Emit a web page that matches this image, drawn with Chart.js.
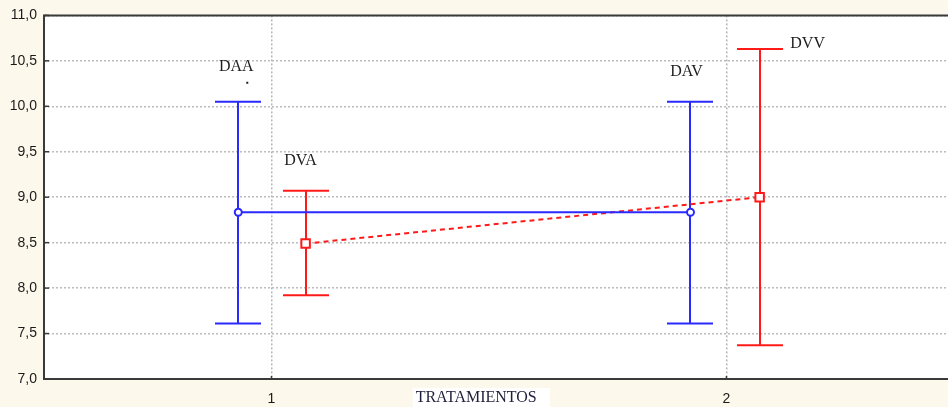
<!DOCTYPE html>
<html>
<head>
<meta charset="utf-8">
<script src="https://cdn.jsdelivr.net/npm/chart.js@4/dist/chart.umd.min.js"></script>
<style>
  html, body { margin: 0; padding: 0; background: #fdf8ec; }
  canvas { display: block; }
</style>
</head>
<body>
<canvas id="c" width="948" height="407"></canvas>
<script>
// Treatment groups on the x axis
const xTickValues = [1, 2];
const xTitle = 'TRATAMIENTOS';

// Blue series: DAA (treatment 1) and DAV (treatment 2)
const blueNames = ['DAA', 'DAV'];
const blueX = [0.927, 1.921];
const blueMean = [8.835, 8.835];
const blueUpper = [10.05, 10.05];
const blueLower = [7.61, 7.61];

// Red series: DVA (treatment 1) and DVV (treatment 2)
const redNames = ['DVA', 'DVV'];
const redX = [1.075, 2.073];
const redMean = [8.49, 9.0];
const redUpper = [9.07, 10.63];
const redLower = [7.92, 7.37];

const fmt = v => v.toFixed(1).replace('.', ',');

const pts = (xs, ys) => xs.map((x, i) => ({ x: x, y: ys[i] }));

// Background, plot frame, error bars and group labels
const decor = {
  id: 'decor',
  beforeDraw(chart) {
    const { ctx, chartArea: a } = chart;
    ctx.save();
    ctx.fillStyle = '#fdf8ec';
    ctx.fillRect(0, 0, chart.width, chart.height);
    ctx.fillStyle = '#ffffff';
    ctx.fillRect(a.left, a.top, a.right - a.left, a.bottom - a.top);
    ctx.restore();
  },
  beforeDatasetsDraw(chart) {
    const { ctx } = chart;
    const xs = chart.scales.x, ys = chart.scales.y;
    ctx.save();
    chart.data.datasets.forEach(ds => {
      ctx.strokeStyle = ds.borderColor;
      ctx.lineWidth = 2;
      ctx.setLineDash([]);
      ds.data.forEach((p, i) => {
        const px = Math.round(xs.getPixelForValue(p.x));
        const yu = ys.getPixelForValue(ds.upper[i]);
        const yl = ys.getPixelForValue(ds.lower[i]);
        ctx.beginPath();
        ctx.moveTo(px, yu); ctx.lineTo(px, yl);
        ctx.moveTo(px - 23, yu); ctx.lineTo(px + 23, yu);
        ctx.moveTo(px - 23, yl); ctx.lineTo(px + 23, yl);
        ctx.stroke();
      });
    });
    ctx.restore();
  },
  afterDraw(chart) {
    const { ctx, chartArea: a } = chart;
    const xs = chart.scales.x, ys = chart.scales.y;
    ctx.save();
    // frame: top, left, bottom
    ctx.strokeStyle = '#3a3a3a';
    ctx.lineWidth = 2;
    ctx.beginPath();
    ctx.moveTo(a.right, a.top); ctx.lineTo(a.left, a.top);
    ctx.lineTo(a.left, a.bottom); ctx.lineTo(a.right, a.bottom);
    ctx.stroke();
    // inward ticks on the y axis
    ctx.lineWidth = 1.5;
    ys.ticks.forEach(t => {
      const y = ys.getPixelForValue(t.value);
      ctx.beginPath(); ctx.moveTo(a.left, y); ctx.lineTo(a.left + 5, y); ctx.stroke();
    });
    xTickValues.forEach(v => {
      const x = xs.getPixelForValue(v);
      ctx.beginPath(); ctx.moveTo(x, a.bottom); ctx.lineTo(x, a.bottom - 3); ctx.stroke();
    });
    // group labels
    ctx.font = '16px "Liberation Serif", "Times New Roman", serif';
    ctx.fillStyle = '#1e1e1e';
    ctx.textAlign = 'center';
    ctx.textBaseline = 'middle';
    chart.data.datasets.forEach(ds => {
      ds.data.forEach((p, i) => {
        const px = xs.getPixelForValue(p.x);
        const yu = ys.getPixelForValue(ds.upper[i]);
        const off = ds.labelOffsets[i];
        ctx.fillText(ds.names[i], px + off[0], yu + off[1]);
      });
    });
    // small stray mark under the first label
    const d0 = chart.data.datasets[0];
    ctx.fillRect(xs.getPixelForValue(d0.data[0].x) + 8, ys.getPixelForValue(d0.upper[0]) - 20, 2, 2);
    // axis title with white backing
    ctx.font = '16px "Liberation Serif", "Times New Roman", serif';
    const tx = xs.getPixelForValue(1.45);
    const ty = a.bottom + 18;
    const w = ctx.measureText(xTitle).width;
    ctx.fillStyle = '#ffffff';
    ctx.fillRect(tx - w / 2 - 3, ty - 9, w + 16, 19);
    ctx.fillStyle = '#1e1e3a';
    ctx.fillText(xTitle, tx, ty + 1);
    ctx.restore();
  }
};

new Chart(document.getElementById('c'), {
  type: 'line',
  data: {
    datasets: [
      {
        data: pts(blueX, blueMean),
        upper: blueUpper, lower: blueLower, names: blueNames,
        labelOffsets: [[-2, -35], [-4, -30]],
        borderColor: '#2a2aff',
        backgroundColor: '#ffffff',
        borderWidth: 2,
        pointStyle: 'circle',
        pointRadius: 3.5,
        pointBorderWidth: 2,
        pointBackgroundColor: '#ffffff',
        tension: 0
      },
      {
        data: pts(redX, redMean),
        upper: redUpper, lower: redLower, names: redNames,
        labelOffsets: [[-5, -30], [48, -5]],
        borderColor: '#ff1a1a',
        backgroundColor: '#ffffff',
        borderWidth: 2,
        borderDash: [5, 4],
        pointStyle: 'rect',
        pointRadius: 6,
        pointBorderWidth: 2,
        pointBackgroundColor: '#ffffff',
        tension: 0
      }
    ]
  },
  options: {
    responsive: false,
    devicePixelRatio: 1,
    animation: false,
    layout: { autoPadding: false, padding: { top: 15, right: 0, left: 0, bottom: 0 } },
    plugins: { legend: { display: false }, tooltip: { enabled: false } },
    scales: {
      x: {
        type: 'linear',
        min: 0.5,
        max: 2.487,
        afterBuildTicks: s => { s.ticks = xTickValues.map(v => ({ value: v })); },
        afterFit: s => { s.height = 28; },
        ticks: {
          color: '#1a1a1a',
          font: { family: '"Liberation Sans", Arial, sans-serif', size: 14 },
          padding: 12,
          callback: v => String(v)
        },
        grid: {
          color: '#b4b4b4',
          lineWidth: 1.5,
          drawTicks: false
        },
        border: { display: false, dash: [2, 2] }
      },
      y: {
        min: 7,
        max: 11,
        afterFit: s => { s.width = 44; },
        ticks: {
          stepSize: 0.5,
          color: '#1a1a1a',
          font: { family: '"Liberation Sans", Arial, sans-serif', size: 14 },
          padding: 7,
          callback: v => fmt(v)
        },
        grid: {
          color: '#bcbcbc',
          lineWidth: 1.5,
          drawTicks: false
        },
        border: { display: false, dash: [2, 2] }
      }
    }
  },
  plugins: [decor]
});
</script>
</body>
</html>
